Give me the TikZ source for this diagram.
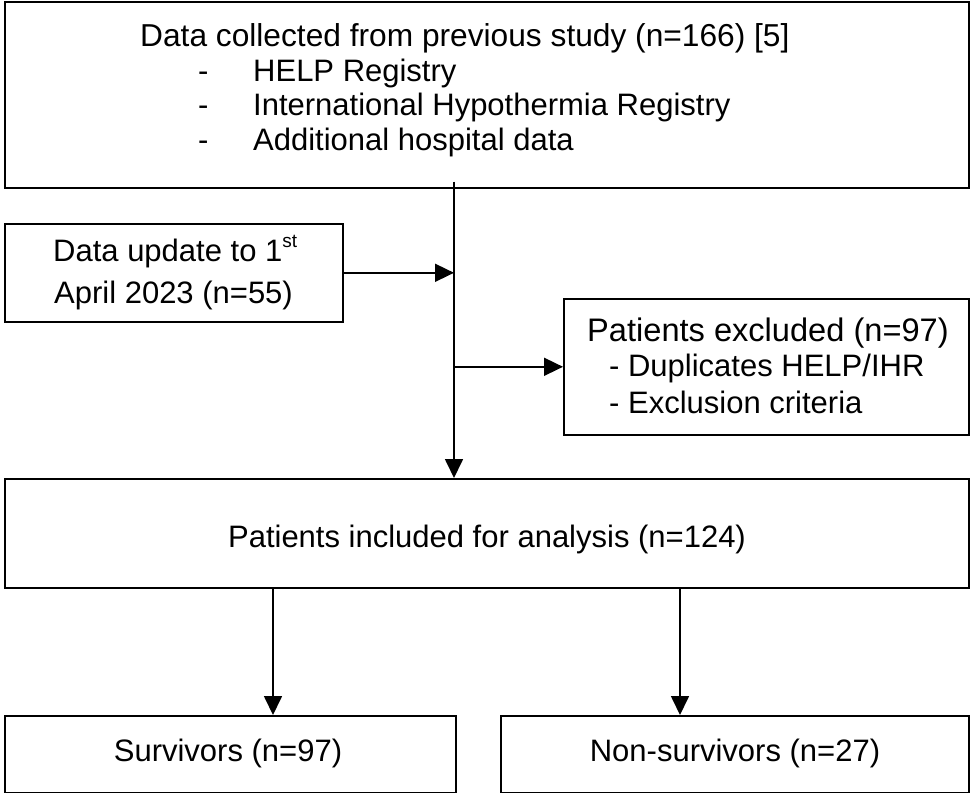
\documentclass[tikz,border=0pt]{standalone}
\usepackage{fontspec}
\setmainfont{Liberation Sans}
\usetikzlibrary{arrows.meta}
\begin{document}
\begin{tikzpicture}[x=1pt,y=-1pt,
  box/.style={draw=black,line width=1.6pt,inner sep=0pt,anchor=north west},
  txt/.style={inner sep=0pt,anchor=base west,font=\fontsize{31}{35}\selectfont},
  ctxt/.style={inner sep=0pt,anchor=base,font=\fontsize{31}{35}\selectfont},
  arr/.style={line width=1.7pt,-{Triangle[length=19pt,width=18pt]}}]
\useasboundingbox (0,0) rectangle (970,793);
% boxes
\node[box,minimum width=964pt,minimum height=186pt] (top) at (4,1) {};
\node[box,minimum width=338pt,minimum height=98pt] (upd) at (4,223) {};
\node[box,minimum width=405pt,minimum height=136pt] (excl) at (563,298) {};
\node[box,minimum width=964pt,minimum height=109pt] (incl) at (4,478) {};
\node[box,minimum width=451pt,minimum height=77pt] (surv) at (4,715) {};
\node[box,minimum width=468pt,minimum height=77pt] (nonsurv) at (500,715) {};
% texts
\node[txt,font=\fontsize{31.7}{35}\selectfont] (t1) at (140,46) {Data collected from previous study (n=166) [5]};
\node[txt] (d1) at (198,81) {-};
\node[txt] (t2) at (253,81) {HELP Registry};
\node[txt] (d2) at (198,115.5) {-};
\node[txt] (t3) at (253,115.5) {International Hypothermia Registry};
\node[txt] (d3) at (198,150) {-};
\node[txt] (t4) at (253,150) {Additional hospital data};
\node[txt] (u1) at (53,261) {Data update to 1\raisebox{0.42em}{\fontsize{19}{20}\selectfont st}};
\node[txt] (u2) at (54,303) {April 2023 (n=55)};
\node[txt,font=\fontsize{32.6}{35}\selectfont] (e1) at (587,341) {Patients excluded (n=97)};
\node[txt] (e2) at (609,376) {- Duplicates HELP/IHR};
\node[txt] (e3) at (609,413) {- Exclusion criteria};
\node[ctxt] (i1) at (487,547) {Patients included for analysis (n=124)};
\node[ctxt] (s1) at (228,761) {Survivors (n=97)};
\node[ctxt] (n1) at (735,761) {Non-survivors (n=27)};
% connectors
\coordinate (mx) at (454,0);
\coordinate (ax) at (273,0);
\coordinate (bx) at (680,0);
\draw[arr] ([yshift=7pt]top.south -| mx) -- (incl.north -| mx);
\draw[arr] (upd.east) -- (upd.east -| mx);
\draw[arr] (excl.west -| mx) -- (excl.west);
\draw[arr] (incl.south -| ax) -- (surv.north -| ax);
\draw[arr] (incl.south -| bx) -- (nonsurv.north -| bx);
\end{tikzpicture}
\end{document}
